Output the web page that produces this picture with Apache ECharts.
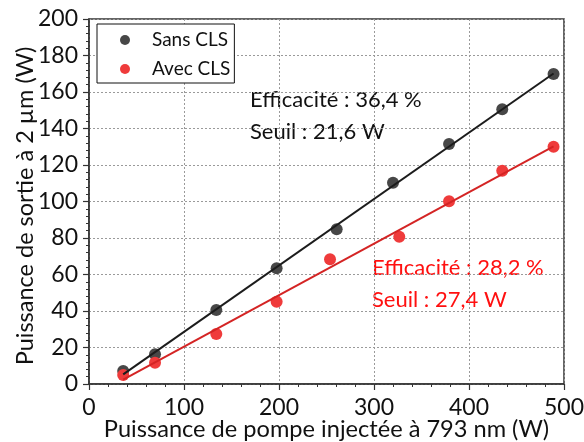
<!DOCTYPE html>
<html>
<head>
<meta charset="utf-8">
<script src="https://cdn.jsdelivr.net/npm/echarts@6/dist/echarts.min.js"></script>
<style>
  html, body { margin: 0; padding: 0; background: #fff; }
  #chart { width: 584px; height: 442px; }
</style>
</head>
<body>
<div id="chart"></div>
<script>
// Measured output power vs injected pump power, with and without CLS
const seriesNames = ['Sans CLS', 'Avec CLS'];

const pumpSans = [36, 69.5, 134, 197.5, 260.7, 320, 379, 435, 489];
const outSans  = [7.1, 16.3, 40.5, 63.4, 84.8, 110.3, 131.5, 150.5, 169.9];

const pumpAvec = [36, 69.5, 134, 197.5, 253.7, 326.6, 379, 435, 489];
const outAvec  = [4.9, 11.7, 27.4, 45.1, 68.3, 80.7, 100.1, 116.9, 130];

// Linear fit parameters: slope efficiency (%) and threshold (W)
const efficiency = [36.4, 28.2];
const threshold  = [21.6, 27.4];
const fitRange   = [36, 489];

const xTicks = [0, 100, 200, 300, 400, 500];
const yTicks = [0, 20, 40, 60, 80, 100, 120, 140, 160, 180, 200];

const pointColors = ['#474747', '#ef3b3b'];
const lineColors  = ['#1c1c1c', '#d42424'];
const textColors  = ['#111111', '#ff1010'];
const FONT = 'Lato';

function pairs(xs, ys) { return xs.map((x, i) => [x, ys[i]]); }
function fitLine(k) {
  return fitRange.map(x => [x, efficiency[k] / 100 * (x - threshold[k])]);
}
function fr(v) { return v.toFixed(1).replace('.', ','); }

const chart = echarts.init(document.getElementById('chart'), null, { renderer: 'canvas' });

const axisCommon = {
  nameMoveOverlap: false,
  axisLine: { show: true, onZero: false, lineStyle: { color: '#333', width: 1.5 } },
  axisTick: { show: true, inside: false, length: 6, lineStyle: { color: '#333', width: 1.2 } },
  minorTick: { show: true, splitNumber: 5, length: 3, lineStyle: { color: '#333', width: 1 } },
  splitLine: { show: true, lineStyle: { color: '#9a9a9a', type: [2, 2], width: 1 } },
  axisLabel: { color: '#111', fontFamily: FONT, fontSize: 23 },
  nameTextStyle: { color: '#111', fontFamily: FONT, fontSize: 24 }
};

const annot = [
  { x: 250, y1: 102, y2: 134, k: 0 },
  { x: 372, y1: 270, y2: 302, k: 1 }
];
const graphics = [];
annot.forEach(a => {
  graphics.push({
    type: 'text', left: a.x, top: a.y1 - 13, silent: true,
    style: { text: 'Efficacité : ' + fr(efficiency[a.k]) + ' %', fill: textColors[a.k], font: '22px ' + FONT }
  });
  graphics.push({
    type: 'text', left: a.x, top: a.y2 - 13, silent: true,
    style: { text: 'Seuil : ' + fr(threshold[a.k]) + ' W', fill: textColors[a.k], font: '22px ' + FONT }
  });
});

chart.setOption({
  animation: false,
  backgroundColor: '#fff',
  grid: {
    left: 89, right: 20, top: 19, bottom: 58,
    containLabel: false, outerBoundsMode: 'none',
    show: true, borderColor: '#333', borderWidth: 1.5, backgroundColor: 'transparent'
  },
  legend: {
    data: seriesNames,
    orient: 'vertical',
    left: 97, top: 24,
    padding: [6, 4, 4, 23],
    itemWidth: 10, itemHeight: 10, itemGap: 9,
    icon: 'circle',
    backgroundColor: '#fff',
    borderColor: '#111', borderWidth: 1, borderRadius: 0,
    textStyle: { fontFamily: FONT, fontSize: 19, color: '#111', lineHeight: 20, padding: [0, 0, 0, 17] }
  },
  xAxis: Object.assign({}, axisCommon, {
    type: 'value', min: xTicks[0], max: xTicks[xTicks.length - 1], interval: 100,
    name: 'Puissance de pompe injectée à 793 nm (W)',
    nameLocation: 'middle', nameGap: 33,
    nameTextStyle: Object.assign({}, axisCommon.nameTextStyle, { fontSize: 23.6 }),
    axisLabel: Object.assign({}, axisCommon.axisLabel, { margin: 12 })
  }),
  yAxis: Object.assign({}, axisCommon, {
    type: 'value', min: yTicks[0], max: yTicks[yTicks.length - 1], interval: 20,
    name: 'Puissance de sortie à 2 µm (W)',
    nameLocation: 'middle', nameGap: 52,
    nameTextStyle: Object.assign({}, axisCommon.nameTextStyle, { fontSize: 23.5, padding: [0, 9, 0, 0] }),
    axisLabel: Object.assign({}, axisCommon.axisLabel, { margin: 11 })
  }),
  graphic: graphics,
  series: [
    {
      name: seriesNames[0] + ' fit', type: 'line', data: fitLine(0),
      showSymbol: false, symbol: 'none', z: 3,
      lineStyle: { color: lineColors[0], width: 2 }, silent: true
    },
    {
      name: seriesNames[1] + ' fit', type: 'line', data: fitLine(1),
      showSymbol: false, symbol: 'none', z: 3,
      lineStyle: { color: lineColors[1], width: 2 }, silent: true
    },
    {
      name: seriesNames[0], type: 'scatter', data: pairs(pumpSans, outSans),
      symbol: 'circle', symbolSize: 12, z: 2,
      itemStyle: { color: pointColors[0], opacity: 1 }
    },
    {
      name: seriesNames[1], type: 'scatter', data: pairs(pumpAvec, outAvec),
      symbol: 'circle', symbolSize: 12, z: 2,
      itemStyle: { color: pointColors[1], opacity: 1 }
    }
  ]
});
</script>
</body>
</html>
